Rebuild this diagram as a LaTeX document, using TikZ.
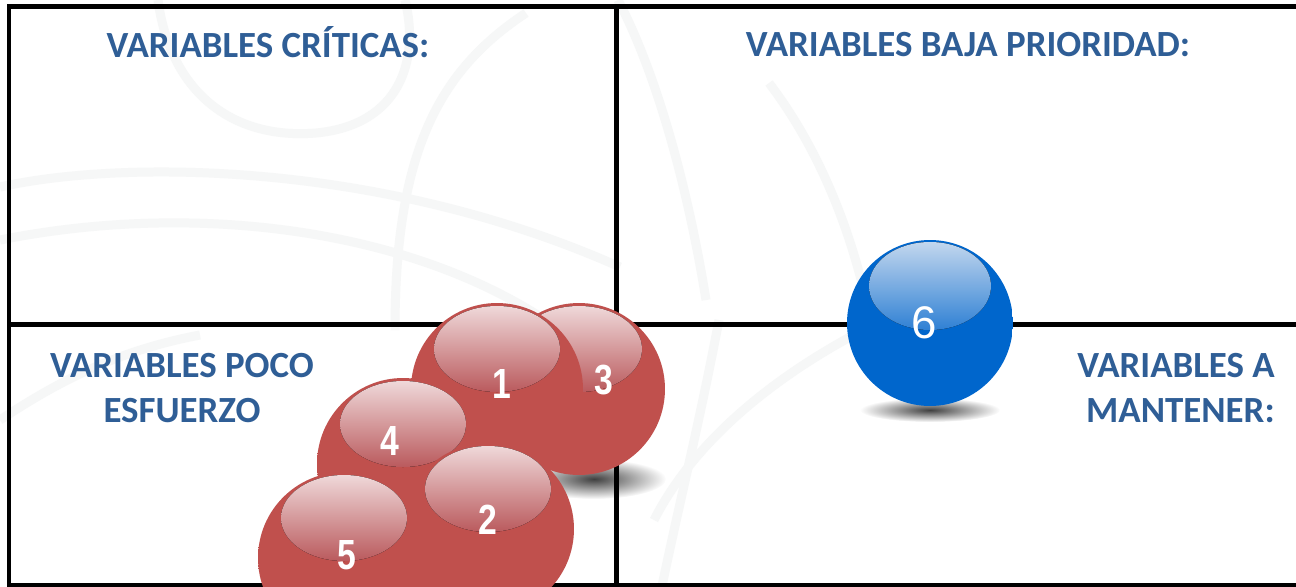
\documentclass[tikz,border=0pt]{standalone}
\usepackage{fontspec}
\setmainfont{Carlito}
\newfontfamily\numfont{Liberation Sans}[FakeStretch=0.8]
\newfontfamily\plainnum{Liberation Sans}
\usetikzlibrary{calc, fadings}
\definecolor{titleBlue}{HTML}{2F5E96}
\definecolor{ballRed}{HTML}{C0504D}
\definecolor{ballBlue}{HTML}{0066CC}
\definecolor{glossRedTop}{HTML}{EFD8D9}
\definecolor{glossRedBot}{HTML}{BA5A5D}
\definecolor{glossBlueTop}{HTML}{C2D7EE}
\definecolor{glossBlueBot}{HTML}{2F80D4}
\definecolor{wmGray}{HTML}{F6F7F7}

\pgfdeclareradialshading{redsphere}{\pgfpoint{3bp}{3bp}}{color(0bp)=(ballRed); color(36bp)=(ballRed); color(46bp)=(ballRed!88!black); color(53bp)=(ballRed!68!black)}
\pgfdeclareradialshading{bluesphere}{\pgfpoint{0bp}{0bp}}{color(0bp)=(ballBlue); color(44bp)=(ballBlue); color(50bp)=(ballBlue!92!black)}
\tikzfading[name=softspot, inner color=transparent!25, outer color=transparent!100]

\begin{document}
\begin{tikzpicture}[x=0.02cm, y=-0.02cm,
    grid/.style={line width=0.1cm, black},
    watermark/.style={line width=0.18cm, wmGray},
    head/.style={font=\fontsize{21}{25.5}\selectfont\bfseries, text=titleBlue, inner sep=0pt},
    redball/.style={circle, inner sep=0pt, minimum size=3.44cm, shading=redsphere},
    blueball/.style={circle, inner sep=0pt, minimum size=3.32cm, shading=bluesphere},
    glossred/.style={top color=glossRedTop, bottom color=glossRedBot},
    glossblue/.style={top color=glossBlueTop, bottom color=glossBlueBot},
    num/.style={font=\numfont\bfseries\fontsize{24}{24}\selectfont, text=white, inner sep=0pt},
    bignum/.style={font=\plainnum\fontsize{26}{26}\selectfont, text=white, inner sep=0pt},
    shadow/.style={fill=black, path fading=softspot}]
  \useasboundingbox (0,0) rectangle (1296,586);
  \clip (0,0) rectangle (1296,586);
  \fill[white] (0,0) rectangle (1296,586);

  % faint background swirls
  \draw[watermark] (158,0) .. controls (170,90) and (230,140) .. (316,133) .. controls (400,125) and (420,60) .. (405,0);
  \draw[watermark] (526,13) .. controls (440,70) and (395,150) .. (395,330);
  \draw[watermark] (0,187) .. controls (120,160) and (380,160) .. (620,267);
  \draw[watermark] (0,240) .. controls (200,200) and (420,230) .. (560,330);
  \draw[watermark] (618,0) .. controls (660,80) and (690,200) .. (706,300);
  \draw[watermark] (769,83) .. controls (820,150) and (850,230) .. (866,300);
  \draw[watermark] (719,320) .. controls (700,420) and (680,500) .. (662,586);
  \draw[watermark] (850,337) .. controls (790,370) and (700,430) .. (654,520);
  \draw[watermark] (0,420) .. controls (60,380) and (120,350) .. (200,335);

  % quadrant frame
  \draw[grid, line join=miter] (1310,6) -- (9,6) -- (9,585) -- (1310,585);
  \draw[grid] (616,6) -- (616,585);
  \draw[grid] (9,324) -- (1310,324);

  % titles
  \node[head] (crit) at (268,42) {VARIABLES CRÍTICAS:};
  \node[head] (baja) at (968,45) {VARIABLES BAJA PRIORIDAD:};
  \node[head, align=center] (poco) at (182,388) {VARIABLES POCO\\ESFUERZO};
  \node[head, align=right, anchor=east] (mant) at (1275,388) {VARIABLES A\\MANTENER:};

  % shadows under the spheres
  \fill[shadow] (594,479) ellipse [x radius=72, y radius=20];
  \fill[shadow] (930,410) ellipse [x radius=70, y radius=12];

  % red spheres, back to front
  \foreach \n/\x/\y/\dx/\dy in {3/579/389/25/-9, 1/497/389/5/-5, 4/403/464/-13/-23,
      2/488/529/0/-9, 5/344/558/3/-3} {
    \node[redball] (b\n) at (\x,\y) {};
    \fill[glossred] ($(b\n)+(0,-40)$) ellipse [x radius=63, y radius=43];
    \node[num] (n\n) at ($(b\n)+(\dx,\dy)$) {\n};
  }

  % blue sphere
  \node[blueball] (b6) at (930,323) {};
  \fill[glossblue] ($(b6)+(0,-37)$) ellipse [x radius=61, y radius=44];
  \node[bignum] (n6) at ($(b6)+(-6,0)$) {6};
\end{tikzpicture}
\end{document}
